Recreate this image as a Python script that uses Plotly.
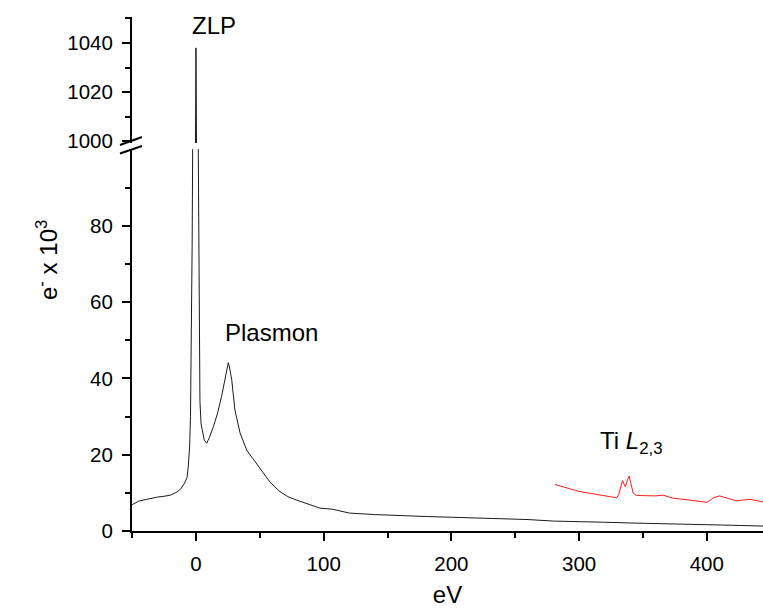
import plotly.graph_objects as go

# ---- data ----
spec_ev = [-50, -45, -40, -35, -30, -25, -20, -15, -12, -9, -7, -6, -5, -4.3, -3.5, -3.0, -2.6,
           -1.5, -0.4, 0.0, 0.4, 1.5,
           1.8, 2.5, 3.1, 4.0, 5.2, 6.5, 8.4, 10.5, 13.6, 17, 20, 22.7, 24.5, 25.3, 26.2, 28,
           30.5, 34.5, 39.7, 46.2, 52.7, 58, 65.8, 72, 78.8, 88, 97, 107, 120, 140, 160, 180,
           200, 220, 240, 260, 280, 300, 320, 340, 360, 380, 400, 420, 444]
spec_counts = [6.9, 7.8, 8.2, 8.6, 8.9, 9.1, 9.4, 10.2, 11.0, 12.5, 14.0, 17.0, 22.0, 30.0, 50.0, 75.0, 100.0,
               400.0, 1000.0, 1038.0, 1000.0, 400.0,
               100.0, 60.0, 34.0, 28.0, 25.7, 23.8, 23.0, 24.5, 27.3, 31.0, 35.2, 39.6, 43.0, 44.1, 43.0, 39.6,
               31.7, 25.7, 21.2, 18.2, 15.1, 12.8, 10.3, 9.0, 8.1, 7.0, 6.0, 5.7, 4.7, 4.3, 4.0, 3.8,
               3.6, 3.4, 3.2, 3.0, 2.6, 2.5, 2.3, 2.1, 1.9, 1.7, 1.6, 1.5, 1.3]

ti_ev = [281, 290, 300.7, 310, 320, 329.4, 331, 333, 334, 335.2, 336.2, 338, 339.3, 340.5, 342.4,
         345, 353, 360, 365.7, 373.5, 386.8, 395, 400, 402.5, 405, 410, 417, 423, 428, 433.8, 440, 444]
ti_counts = [12.2, 11.4, 10.3, 9.8, 9.3, 8.7, 9.5, 12.5, 13.2, 12.3, 11.6, 13.5, 14.4, 12.5, 9.9,
             9.3, 9.2, 9.2, 9.4, 8.6, 8.1, 7.7, 7.5, 8.0, 8.7, 9.2, 8.6, 7.9, 8.1, 8.3, 7.9, 7.6]

x_range = [-50.1, 444]
low_range = [0, 100.1]
high_range = [999.2, 1050.6]

FONT = "Liberation Sans, Arial, sans-serif"
W, H = 763, 608
ML, MR, MT, MB = 132, 0, 17, 77
PW, PH = W - ML - MR, H - MT - MB


def px2paper(px, py):
    return (px - ML) / PW, (H - MB - py) / PH


fig = go.Figure()
fig.add_trace(go.Scatter(x=spec_ev, y=spec_counts, mode="lines",
                         line=dict(color="#1a1a1a", width=1), xaxis="x", yaxis="y",
                         showlegend=False))
fig.add_trace(go.Scatter(x=spec_ev, y=spec_counts, mode="lines",
                         line=dict(color="#1a1a1a", width=1), xaxis="x", yaxis="y2",
                         showlegend=False))
fig.add_trace(go.Scatter(x=ti_ev, y=ti_counts, mode="lines",
                         line=dict(color="#ff1a1a", width=1), xaxis="x", yaxis="y",
                         showlegend=False))

low_top = px2paper(0, 149)[1]
high_bot = px2paper(0, 143)[1]

axis_common = dict(showline=True, linecolor="black", linewidth=2, ticks="outside",
                   ticklen=8, tickwidth=1.5, tickcolor="black", showgrid=False,
                   zeroline=False, tickfont=dict(family=FONT, size=20.5, color="black"))

fig.update_layout(
    width=W, height=H,
    margin=dict(l=ML, r=MR, t=MT, b=MB),
    paper_bgcolor="white", plot_bgcolor="white",
    xaxis=dict(range=x_range, anchor="y", tickvals=[0, 100, 200, 300, 400],
               ticklabelstandoff=5,
               minor=dict(ticks="outside", ticklen=5, tickwidth=1.5, tickcolor="black",
                          tickvals=[-50, 50, 150, 250, 350]),
               title=dict(text="eV", font=dict(family=FONT, size=24, color="black"), standoff=18),
               **axis_common),
    yaxis=dict(range=low_range, domain=[0, low_top], anchor="x",
               tickvals=[0, 20, 40, 60, 80], ticklabelstandoff=5,
               minor=dict(ticks="outside", ticklen=5, tickwidth=1.5, tickcolor="black",
                          tickvals=[10, 30, 50, 70, 90]),
               **axis_common),
    yaxis2=dict(range=high_range, domain=[high_bot, 1], anchor="x",
                tickvals=[1000, 1020, 1040], ticklabelstandoff=5,
                minor=dict(ticks="outside", ticklen=5, tickwidth=1.5, tickcolor="black",
                           tickvals=[1010, 1030, 1050]),
                **axis_common),
)

# axis break marks
for py0, py1 in [(145, 137), (153.5, 146)]:
    x0, y0 = px2paper(120, py0)
    x1, y1 = px2paper(142, py1)
    fig.add_shape(type="line", xref="paper", yref="paper", x0=x0, y0=y0, x1=x1, y1=y1,
                  line=dict(color="black", width=2))

ann_font = dict(family=FONT, size=24, color="black")
fig.add_annotation(x=14, y=1047, xref="x", yref="y2", text="ZLP", showarrow=False, font=ann_font)
fig.add_annotation(x=59.5, y=51.9, xref="x", yref="y", text="Plasmon", showarrow=False, font=ann_font)
fig.add_annotation(x=341, y=23.3, xref="x", yref="y", text="Ti <i>L</i><sub>2,3</sub>",
                   showarrow=False, font=ann_font)
tx, ty = px2paper(30, 260)
fig.add_annotation(x=tx, y=ty, xref="paper", yref="paper", text="e<sup>-</sup> x 10<sup>3</sup>",
                   textangle=-90, showarrow=False, font=ann_font)

fig.write_html("out.html")
